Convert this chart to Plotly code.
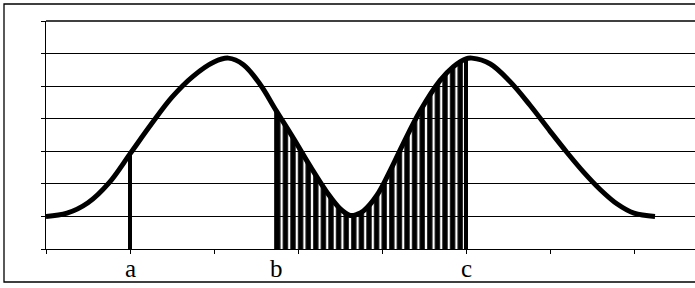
import plotly.graph_objects as go

# Curve (x in tick units, y in gridline units)
curve_x = [0.0, 0.25, 0.5, 0.75, 1.0, 1.25, 1.5, 1.75, 2.0, 2.17, 2.35, 2.55, 2.74,
           2.95, 3.15, 3.35, 3.5, 3.62, 3.7, 3.78, 3.94, 4.1, 4.25, 4.45, 4.69, 4.85, 5.0, 5.07,
           5.29, 5.52, 5.76, 6.0, 6.2, 6.4, 6.6, 6.8, 7.0, 7.25]
curve_y = [1.0, 1.1, 1.42, 2.03, 2.92, 3.82, 4.66, 5.3, 5.74, 5.86, 5.66, 5.05, 4.25,
           3.38, 2.52, 1.72, 1.24, 1.03, 1.06, 1.17, 1.65, 2.42, 3.22, 4.22, 5.17, 5.6, 5.84, 5.86,
           5.68, 5.15, 4.42, 3.62, 2.97, 2.36, 1.82, 1.38, 1.1, 1.0]

point_labels = ["a", "b", "c"]
point_x = [1.0, 2.74, 5.0]
x_ticks = [0, 1, 2, 3, 4, 5, 6, 7]
y_ticks = [0, 1, 2, 3, 4, 5, 6, 7]

def y_at(xv):
    return curve_y[curve_x.index(xv)]

fig = go.Figure()

# hatched area between b and c
b_x, c_x = point_x[1], point_x[2]
sub = [(x, y) for x, y in zip(curve_x, curve_y) if b_x <= x <= c_x]
fig.add_trace(go.Scatter(
    x=[p[0] for p in sub], y=[p[1] for p in sub], mode="lines",
    line=dict(width=0, shape="spline", smoothing=1.0), fill="tozeroy",
    fillcolor="rgba(0,0,0,0)",
    fillpattern=dict(shape="|", size=7.6, solidity=0.7, fgcolor="black", fgopacity=1),
    hoverinfo="skip", showlegend=False))

# vertical lines at a, b, c
vx, vy = [], []
for xv in point_x:
    vx += [xv, xv, None]
    vy += [0, y_at(xv), None]
fig.add_trace(go.Scatter(x=vx, y=vy, mode="lines", line=dict(color="black", width=4),
                         hoverinfo="skip", showlegend=False))

# the curve
fig.add_trace(go.Scatter(x=curve_x, y=curve_y, mode="lines",
                         line=dict(color="black", width=5, shape="spline", smoothing=1.0),
                         hoverinfo="skip", showlegend=False))

W, H = 695, 288
L, R, T, B = 46, 0, 21, 39
pw, ph = W - L - R, H - T - B

for lab, xv in zip(point_labels, point_x):
    fig.add_annotation(x=xv, y=-19.0 / ph, xref="x", yref="paper", text=lab, showarrow=False,
                       font=dict(family="Liberation Serif", size=25, color="black"),
                       xanchor="center", yanchor="middle")

# outer frame
fig.add_shape(type="rect", xref="paper", yref="paper",
              x0=(4 - L) / pw, x1=1.05, y0=(H - B - 282) / ph, y1=(H - B - 4) / ph,
              line=dict(color="black", width=1.3), fillcolor="rgba(0,0,0,0)")
# top gridline of the plot area (top tick value)
fig.add_shape(type="line", xref="paper", yref="paper", x0=0, x1=1.05, y0=1, y1=1,
              line=dict(color="black", width=1.3))

fig.update_xaxes(range=[0, pw / 84.0], tickvals=x_ticks, ticks="outside", ticklen=4,
                 tickcolor="black", tickwidth=1, showticklabels=False, showgrid=False,
                 zeroline=False, showline=True, linecolor="black", linewidth=1.2)
fig.update_yaxes(range=[0, y_ticks[-1]], tickvals=y_ticks, ticks="outside", ticklen=4,
                 tickcolor="black", tickwidth=1, showticklabels=False, showgrid=True,
                 gridcolor="black", gridwidth=1.2, zeroline=False, showline=True,
                 linecolor="black", linewidth=1.3)
fig.update_layout(width=W, height=H, margin=dict(l=L, r=R, t=T, b=B, pad=0),
                  paper_bgcolor="white", plot_bgcolor="white", showlegend=False)

fig.write_html("out.html")
